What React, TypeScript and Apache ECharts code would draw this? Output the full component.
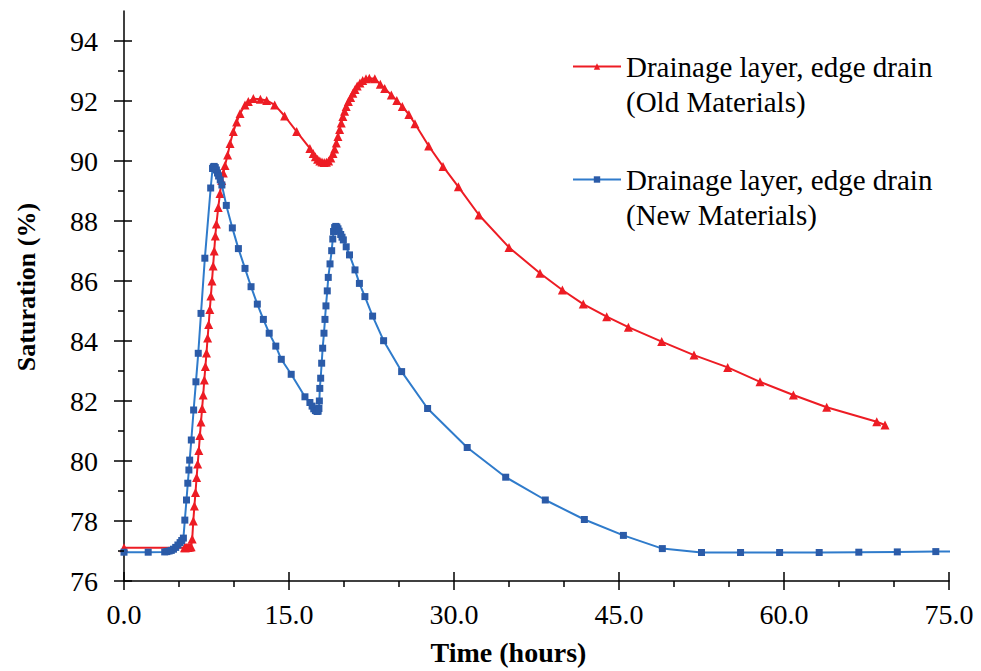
import React, { useEffect, useRef } from 'react';
import * as echarts from 'echarts';

// Time (hours) and saturation (%)
const oldTime = [
  0, 5.5, 5.6, 5.7, 5.8, 5.9, 6.0, 6.1, 6.2, 6.3, 6.4, 6.5, 6.6, 6.7, 6.8, 6.9, 7.0, 7.1, 7.2, 7.3, 7.4, 7.5,
  7.6, 7.7, 7.8, 7.9, 8.0, 8.1, 8.2, 8.3, 8.4, 8.57, 8.73, 8.88, 9.03, 9.18, 9.42, 9.64, 9.94, 10.24, 10.55,
  11.0, 11.3, 11.76, 12.4, 12.97, 13.7, 14.6, 15.7, 16.9, 17.2, 17.4, 17.6, 17.8, 18.0, 18.2, 18.4, 18.6,
  18.8, 19.0, 19.15, 19.3, 19.45, 19.6, 19.75, 19.9, 20.05, 20.2, 20.4, 20.6, 20.8, 21.0, 21.2, 21.45, 21.7,
  22.0, 22.3, 22.8, 23.3, 23.7, 24.3, 24.8, 25.3, 25.9, 26.45, 27.7, 29.0, 30.4, 32.27, 35.0, 37.82, 39.85,
  41.75, 43.88, 45.85, 48.88, 51.82, 54.88, 57.82, 60.85, 63.88, 68.43, 69.18,
];
const oldSat = [
  77.11, 77.11, 77.11, 77.12, 77.12, 77.13, 77.13, 77.14, 77.4, 78.0, 78.5, 78.95, 79.45, 79.9, 80.35, 80.85,
  81.3, 81.75, 82.2, 82.7, 83.15, 83.6, 84.1, 84.55, 85.05, 85.5, 86.0, 86.5, 87.0, 87.5, 87.9, 88.45, 88.92,
  89.35, 89.6, 89.85, 90.2, 90.58, 90.98, 91.3, 91.58, 91.87, 91.98, 92.08, 92.06, 92.02, 91.87, 91.5, 90.98,
  90.42, 90.25, 90.14, 90.06, 90.0, 89.97, 89.95, 89.96, 90.0, 90.1, 90.25, 90.4, 90.6, 90.82, 91.05, 91.27,
  91.48, 91.66, 91.82, 91.98, 92.12, 92.26, 92.38, 92.5, 92.6, 92.68, 92.74, 92.76, 92.74, 92.56, 92.42, 92.2,
  92.02, 91.82, 91.55, 91.24, 90.5, 89.82, 89.14, 88.2, 87.12, 86.26, 85.7, 85.23, 84.81, 84.46, 83.98, 83.53,
  83.12, 82.64, 82.2, 81.79, 81.31, 81.2,
];
const newTime = [
  0, 2.2, 3.7, 3.9, 4.1, 4.3, 4.5, 4.7, 4.9, 5.1, 5.25, 5.4, 5.53, 5.68, 5.8, 5.9, 5.97, 6.12, 6.33, 6.54,
  6.75, 7.0, 7.35, 7.88, 8.05, 8.12, 8.2, 8.3, 8.4, 8.5, 8.6, 8.75, 8.9, 9.3, 9.85, 10.4, 11.0, 11.55, 12.12,
  12.67, 13.2, 13.8, 14.3, 15.2, 16.45, 16.9, 17.1, 17.25, 17.4, 17.55, 17.65, 17.72, 17.76, 17.8, 17.88,
  17.97, 18.06, 18.18, 18.27, 18.36, 18.48, 18.57, 18.73, 18.88, 18.98, 19.05, 19.15, 19.25, 19.35, 19.45,
  19.55, 19.7, 19.82, 19.94, 20.2, 20.5, 21.0, 21.4, 21.9, 22.6, 23.6, 25.24, 27.6, 31.2, 34.7, 38.3, 41.85,
  45.4, 48.94, 52.5, 56.05, 59.6, 63.2, 66.8, 70.3, 73.8, 77.3,
];
const newSat = [
  76.96, 76.96, 76.97, 76.98, 77.0, 77.02, 77.06, 77.12, 77.2, 77.28, 77.35, 77.43, 78.03, 78.7, 79.26, 79.7,
  80.03, 80.7, 81.7, 82.64, 83.59, 84.92, 86.76, 89.1, 89.75, 89.8, 89.82, 89.78, 89.7, 89.6, 89.5, 89.37,
  89.2, 88.52, 87.77, 87.08, 86.42, 85.81, 85.23, 84.72, 84.26, 83.83, 83.39, 82.89, 82.14, 81.95, 81.83,
  81.74, 81.68, 81.65, 81.66, 81.75, 82.0, 82.42, 82.76, 83.26, 83.76, 84.26, 84.72, 85.17, 85.67, 86.12,
  86.57, 87.01, 87.4, 87.65, 87.78, 87.82, 87.8, 87.74, 87.66, 87.55, 87.46, 87.37, 87.14, 86.87, 86.37,
  85.92, 85.48, 84.83, 84.01, 82.98, 81.75, 80.45, 79.46, 78.7, 78.05, 77.52, 77.08, 76.95, 76.95, 76.95,
  76.95, 76.96, 76.97, 76.98, 76.99,
];

const seriesNames = [
  'Drainage layer, edge drain (Old Materials)',
  'Drainage layer, edge drain (New Materials)',
];
const legendFirstLine = 'Drainage layer, edge drain';
const legendSecondLines = ['(Old Materials)', '(New Materials)'];

const xMin = 0;
const xMax = 75;
const xInterval = 15;
const xMajorTicks = [0, 15, 30, 45, 60, 75];
const yMin = 76;
const yMax = 95;
const yLabelMax = 94;
const yMajorTicks = [76, 78, 80, 82, 84, 86, 88, 90, 92, 94];
const yMinorTicks = [77, 79, 81, 83, 85, 87, 89, 91, 93];

const FONT = '"Liberation Serif", "Times New Roman", serif';
const RED = '#ED1C24';
const BLUE_LINE = '#2F7BCB';
const BLUE_MARK = '#2B5BA8';

function pairs(xs: number[], ys: number[]) {
  return xs.map((x, i) => [x, ys[i]]);
}

// tick-mark series drawn through the axes' own scales
function tickSeries(data: number[][], dx1: number, dy1: number, dx2: number, dy2: number) {
  return {
    type: 'custom',
    xAxisIndex: 0,
    yAxisIndex: 0,
    silent: true,
    clip: false,
    z: 10,
    encode: { x: 0, y: 1 },
    data,
    renderItem: (_params: any, api: any) => {
      const p = api.coord([api.value(0), api.value(1)]);
      return {
        type: 'line',
        shape: { x1: p[0] + dx1, y1: p[1] + dy1, x2: p[0] + dx2, y2: p[1] + dy2 },
        style: { stroke: '#000', lineWidth: 1.5 },
      };
    },
  };
}

export default function App() {
  const ref = useRef<HTMLDivElement>(null);
  useEffect(() => {
    if (!ref.current) return;
    const chart = echarts.init(ref.current, undefined, { renderer: 'svg' });
    const axisLineStyle = { color: '#000', width: 1.5 };
    chart.setOption({
      animation: false,
      backgroundColor: '#fff',
      grid: { left: 124, right: 32, top: 11, bottom: 90, containLabel: false },
      legend: {
        orient: 'vertical',
        left: 572,
        top: 14,
        padding: 0,
        itemWidth: 48,
        itemHeight: 8,
        itemGap: 8,
        data: seriesNames,
        formatter: (name: string) => {
          const i = seriesNames.indexOf(name);
          return '\n' + legendFirstLine + '\n' + legendSecondLines[i];
        },
        textStyle: { fontFamily: FONT, fontSize: 29, lineHeight: 35, color: '#000' },
      },
      xAxis: {
        type: 'value',
        min: xMin,
        max: xMax,
        interval: xInterval,
        name: 'Time (hours)',
        nameLocation: 'middle',
        nameGap: 57,
        nameTextStyle: {
          fontFamily: FONT,
          fontSize: 28,
          fontWeight: 'bold',
          color: '#000',
          padding: [0, 56, 0, 0],
        },
        axisLine: { show: true, onZero: false, lineStyle: axisLineStyle },
        axisTick: { show: true, inside: false, length: 9, lineStyle: axisLineStyle },
        minorTick: { show: true, splitNumber: 3, length: 6, lineStyle: axisLineStyle },
        axisLabel: {
          margin: 19,
          fontFamily: FONT,
          fontSize: 28,
          color: '#000',
          formatter: (v: number) => v.toFixed(1),
        },
        splitLine: { show: false },
      },
      yAxis: {
        type: 'value',
        position: 'left',
        min: yMin,
        max: yMax,
        interval: 1,
        name: 'Saturation (%)',
        nameLocation: 'middle',
        nameGap: 85,
        nameTextStyle: {
          fontFamily: FONT,
          fontSize: 26,
          fontWeight: 'bold',
          color: '#000',
          padding: [0, 0, 0, 18],
        },
        axisLine: { show: true, onZero: false, lineStyle: axisLineStyle },
        axisTick: { show: false },
        axisLabel: {
          margin: 26,
          fontFamily: FONT,
          fontSize: 28,
          color: '#000',
          formatter: (v: number) => (v % 2 === 0 && v <= yLabelMax ? String(v) : ''),
        },
        splitLine: { show: false },
      },
      series: [
        {
          name: seriesNames[0],
          type: 'line',
          data: pairs(oldTime, oldSat),
          symbol: 'triangle',
          symbolSize: 9,
          showAllSymbol: true,
          lineStyle: { color: RED, width: 2 },
          itemStyle: { color: RED },
          clip: true,
          z: 2,
        },
        {
          name: seriesNames[1],
          type: 'line',
          data: pairs(newTime, newSat),
          symbol: 'rect',
          symbolSize: 7,
          showAllSymbol: true,
          lineStyle: { color: BLUE_LINE, width: 2 },
          itemStyle: { color: BLUE_MARK },
          clip: true,
          z: 3,
        },
        tickSeries(yMajorTicks.map((v) => [xMin, v]), -10, 0, 8, 0),
        tickSeries(yMinorTicks.map((v) => [xMin, v]), -6, 0, 0, 0),
        tickSeries(xMajorTicks.map((v) => [v, yMin]), 0, 0, 0, -9),
      ],
    });
    return () => chart.dispose();
  }, []);
  return (
    <div
      ref={ref}
      style={{ position: 'fixed', left: 0, top: 0, width: '981px', height: '671px', background: '#fff' }}
    />
  );
}
